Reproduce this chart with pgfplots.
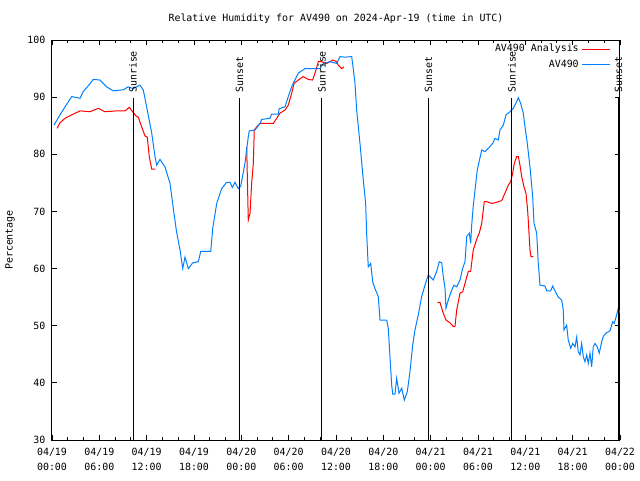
\documentclass[border=0pt]{standalone}
\usepackage{pgfplots}
\pgfplotsset{compat=1.18}
\usepackage{fontspec}
\setmainfont{DejaVu Sans Mono}
\setmonofont{DejaVu Sans Mono}
\definecolor{gpred}{RGB}{255,0,0}
\definecolor{gpblue}{RGB}{0,128,255}
\begin{document}
\begin{tikzpicture}[font=\fontsize{7.45}{11}\selectfont]
\begin{axis}[
  at={(0,0)}, anchor=south west,
  scale only axis, width=426pt, height=300pt,
  xmin=0, xmax=72, ymin=30, ymax=100,
  xtick={0,6,...,72},
  xticklabels={{04/19\\00:00},{04/19\\06:00},{04/19\\12:00},{04/19\\18:00},{04/20\\00:00},{04/20\\06:00},{04/20\\12:00},{04/20\\18:00},{04/21\\00:00},{04/21\\06:00},{04/21\\12:00},{04/21\\18:00},{04/22\\00:00}},
  minor x tick num=2,
  ytick={30,40,...,100},
  tick align=inside,
  major tick length=4pt, minor tick length=2.5pt,
  axis line style={line width=0.75pt},
  every tick/.style={black, line width=0.6pt},
  x tick label style={align=center, font=\fontsize{7.45}{11.2}\selectfont, yshift=-2.8pt},
  y tick label style={font=\fontsize{7.45}{11}\selectfont, xshift=-1.5pt},
  /pgf/number format/assume math mode=true,
  unbounded coords=jump,
  clip mode=individual,
  legend style={at={(1,1)}, anchor=north east, draw=none, fill=none,
    font=\fontsize{7.45}{11}\selectfont, xshift=-7pt, yshift=-1pt, row sep=0.5pt,
    inner sep=0pt},
  legend plot pos=right,
  legend cell align=right,
  legend image code/.code={\draw[#1] (0pt,0pt) -- (21pt,0pt);},
]
\addplot[gpred, line width=0.75pt] coordinates {
(0.67,84.55) (1.01,85.5) (1.65,86.3) (2.50,86.9) (3.55,87.6) (4.82,87.45) (5.87,88.05) (6.72,87.45)
(8.20,87.6) (9.25,87.6) (9.80,88.2) (10.23,87.45) (10.65,86.7) (10.94,86.5) (11.37,84.8) (11.79,83.2)
(12.08,83.0) (12.33,79.6) (12.64,77.4) (13.06,77.4)
(18,nan)
(24.68,81.3) (24.88,68.5) (25.10,69.7) (25.31,74.9) (25.52,78.4) (25.64,84.25) (25.95,84.8) (26.37,85.4)
(28.05,85.4) (28.48,86.3) (28.90,87.2) (29.54,87.75) (29.95,88.6) (30.38,90.65) (30.68,92.4) (31.22,93.0)
(31.85,93.6) (32.49,93.1) (33.05,93.0) (33.46,94.75) (33.76,96.2) (34.19,96.2) (34.82,95.9) (35.58,96.5)
(36.09,96.2) (36.29,95.6) (36.72,95.0) (37.01,95.3)
(42,nan)
(48.84,54.1) (49.18,54.1) (49.53,52.45) (49.94,51.0) (50.45,50.5) (50.87,49.85) (51.08,49.85) (51.30,52.75)
(51.72,55.7) (52.06,55.95) (52.35,57.4) (52.77,59.5) (53.07,59.5) (53.40,63.25) (53.83,65.1) (54.16,66.2)
(54.47,67.9) (54.80,71.7) (55.10,71.7) (55.74,71.4) (56.37,71.6) (57.00,71.9) (57.42,73.2) (57.84,74.6)
(58.14,75.2) (58.40,76.7) (58.60,78.4) (58.90,79.6) (59.11,79.6) (59.32,78.1) (59.54,76.1) (59.83,74.3)
(60.08,73.2) (60.29,70.25) (60.37,68.5) (60.59,63.25) (60.72,62.1) (61.01,62.1)
};
\addlegendentry{AV490 Analysis}
\addplot[gpblue, line width=0.75pt] coordinates {
(0.25,85.1) (1.01,86.9) (1.65,88.3) (2.50,90.1) (3.55,89.8) (3.97,91.0) (4.60,92.0) (5.24,93.1)
(6.08,93.0) (6.93,91.8) (7.77,91.1) (9.04,91.3) (9.67,91.8) (10.27,91.5) (11.15,92.1) (11.57,91.25)
(12.00,88.3) (12.64,83.7) (13.06,79.6) (13.27,78.1) (13.69,79.1) (14.32,77.8) (14.96,74.9) (15.38,70.5)
(15.78,66.5) (16.23,63.25) (16.57,60.0) (16.86,62.0) (17.28,60.0) (17.84,61.0) (18.55,61.2) (18.85,63.0)
(20.12,63.0) (20.37,67.0) (20.88,71.4) (21.51,74.0) (22.14,75.1) (22.56,75.1) (22.86,74.2) (23.20,75.1)
(23.62,74.0) (23.92,74.4) (24.46,78.4) (24.88,83.1) (25.01,84.1) (25.73,84.25) (26.37,85.4) (26.58,86.1)
(27.63,86.3) (27.85,87.05) (28.69,87.05) (28.81,88.0) (29.54,88.3) (29.95,90.1) (30.38,91.8) (30.68,92.7)
(31.22,94.2) (32.07,95.0) (33.97,95.0) (34.39,95.9) (35.24,96.2) (36.09,95.9) (36.51,97.1) (37.14,97.0)
(37.99,97.1) (38.19,95.0) (38.41,92.4) (38.62,87.75) (39.04,81.9) (39.46,75.5) (39.76,71.4) (39.89,66.0)
(40.09,60.3) (40.40,60.9) (40.65,57.7) (40.94,56.5) (41.36,55.1) (41.58,51.0) (42.43,51.0) (42.63,49.5)
(42.84,44.6) (43.06,39.6) (43.19,38.05) (43.48,38.05) (43.69,40.8) (43.99,38.2) (44.33,39.05) (44.66,37.0)
(45.04,38.45) (45.38,42.0) (45.72,46.6) (46.01,49.25) (46.43,51.9) (46.86,55.1) (47.28,57.1) (47.70,58.9)
(48.33,58.0) (48.76,59.5) (49.09,61.2) (49.40,61.0) (49.60,58.6) (49.82,56.5) (49.94,53.05) (50.23,54.5)
(50.67,56.25) (50.96,57.1) (51.30,56.8) (51.72,58.0) (52.06,60.05) (52.35,61.2) (52.57,65.6) (52.90,66.2)
(53.07,64.4) (53.20,67.6) (53.40,71.0) (53.91,77.25) (54.47,80.75) (54.89,80.45) (55.30,81.05) (55.86,81.9)
(56.15,82.8) (56.57,82.5) (56.79,84.25) (57.21,85.1) (57.55,86.9) (58.06,87.45) (58.47,88.05) (58.90,89.2)
(59.11,89.9) (59.41,88.9) (59.74,87.2) (59.96,84.8) (60.25,81.9) (60.59,77.8) (60.93,72.6) (61.10,67.9)
(61.44,66.2) (61.64,60.9) (61.86,57.1) (62.49,56.95) (62.71,56.1) (63.21,56.1) (63.47,56.95) (63.76,56.1)
(64.18,55.0) (64.61,54.5) (64.81,52.75) (64.90,49.25) (65.24,50.1) (65.44,47.5) (65.75,46.05) (66.00,46.9)
(66.30,46.3) (66.51,48.0) (66.71,45.45) (66.93,44.9) (67.14,46.9) (67.35,44.6) (67.56,43.7) (67.78,44.9)
(67.98,43.4) (68.20,45.2) (68.41,42.8) (68.61,46.3) (68.83,46.9) (69.12,46.3) (69.37,45.2) (69.68,47.2)
(69.88,48.1) (70.22,48.7) (70.73,49.1) (71.07,50.7) (71.27,50.4) (71.58,51.9) (71.78,53.05) (71.95,52.3)
};
\addlegendentry{AV490}
\foreach \t/\lab in {10.27/Sunrise, 23.77/Sunset, 34.22/Sunrise, 47.72/Sunset, 58.31/Sunrise, 71.8/Sunset}{
  \edef\tmp{\noexpand\draw[black, line width=0.75pt] (axis cs:\t,30) -- (axis cs:\t,89.8);
    \noexpand\node[rotate=90, anchor=west, inner sep=3pt] at (axis cs:\t,90) {\lab};}
  \tmp
}
\end{axis}
\node at (213pt,315.75pt) {Relative Humidity for AV490 on 2024-Apr-19 (time in UTC)};
\node[rotate=90] at (-31.5pt,150pt) {Percentage};
\pgfresetboundingbox
\path[use as bounding box] (-39pt,-30pt) rectangle (441pt,330pt);
\end{tikzpicture}
\end{document}
